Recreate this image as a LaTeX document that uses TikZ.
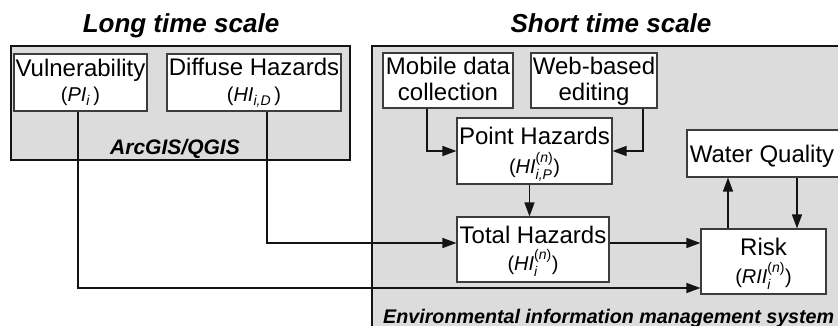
\documentclass[tikz,border=0pt]{standalone}
\usepackage{amsmath}
\usepackage{fontspec}
\setmainfont{Liberation Sans}
\usetikzlibrary{arrows.meta}
\definecolor{panelgray}{HTML}{DCDCDC}
\definecolor{boxline}{HTML}{3C3C3C}
\definecolor{ink}{HTML}{141414}
\newcommand\mainsize{\fontsize{24}{26}\selectfont}
\newcommand\subsize{\fontsize{20}{22}\selectfont}
\newcommand\up[1]{\textup{#1}}
\begin{document}
\begin{tikzpicture}[x=1pt,y=-1pt,
  panel/.style={fill=panelgray,draw=ink,line width=2.2pt,inner sep=0pt},
  box/.style={draw=boxline,fill=white,line width=1.1pt,inner sep=0pt},
  txt/.style={inner sep=0pt,anchor=base,font=\mainsize},
  subtxt/.style={inner sep=0pt,anchor=base,font=\subsize},
  title/.style={inner sep=0pt,anchor=base,font=\fontsize{26}{28}\selectfont\bfseries\itshape},
  tag/.style={inner sep=0pt,anchor=base,font=\fontsize{21}{23}\selectfont\bfseries\itshape},
  flow/.style={draw=ink,line width=1.3pt,-{Triangle[length=14pt,width=10pt]}}
]
\useasboundingbox (0,0) rectangle (838,326);
\clip (0,0) rectangle (838,326);
\fill[white] (0,0) rectangle (838,326);

% the two time-scale panels
\node[panel,minimum width=339pt,minimum height=114pt] (longpanel) at (180.5,103) {};
\node[panel,minimum width=490pt,minimum height=300pt] (shortpanel) at (617,196) {};

% titles and panel tags
\node[title] (longtitle) at (181,33) {Long time scale};
\node[title] (shorttitle) at (611,33) {Short time scale};
\node[tag] (gistag) at (175,155) {ArcGIS/QGIS};
\node[tag,anchor=base west,font=\fontsize{19.7}{22}\selectfont\bfseries\itshape] (eimstag) at (383,323) {Environmental information management system};

% boxes
\node[box,minimum width=133pt,minimum height=57pt] (vul) at (80.5,82.5) {};
\node[box,minimum width=174pt,minimum height=57pt] (dif) at (254,82.5) {};
\node[box,minimum width=130pt,minimum height=55pt] (mob) at (448,80.5) {};
\node[box,minimum width=126pt,minimum height=55pt] (web) at (594,80.5) {};
\node[box,minimum width=155pt,minimum height=66pt] (pt) at (534.5,151) {};
\node[box,minimum width=152pt,minimum height=65pt] (tot) at (533,249.5) {};
\node[box,minimum width=163pt,minimum height=47pt] (wq) at (768.5,153.5) {};
\node[box,minimum width=125pt,minimum height=65pt] (risk) at (763.5,261.5) {};

% box texts
\node[txt] (vulA) at (80.5,77) {Vulnerability};
\node[subtxt] (vulB) at (80.5,102) {(\textit{PI}$_{\textit{i}}$\,)};
\node[txt] (difA) at (254,76) {Diffuse Hazards};
\node[subtxt] (difB) at (254,102) {(\textit{HI}$_{\textit{i,D}}$\,)};
\node[txt] (mobA) at (448,75) {Mobile data};
\node[txt] (mobB) at (448,101) {collection};
\node[txt] (webA) at (594,75) {Web-based};
\node[txt] (webB) at (594,101) {editing};
\node[txt] (ptA) at (534.5,145) {Point Hazards};
\node[subtxt] (ptB) at (534.5,173) {(\textit{HI}$^{\up{(}\textit{n}\up{)}}_{\textit{i,P}}$)};
\node[txt] (totA) at (533,243) {Total Hazards};
\node[subtxt] (totB) at (533,270) {(\textit{HI}$^{\up{(}\textit{n}\up{)}}_{\textit{i}}$)};
\node[txt] (wqA) at (762,162) {Water Quality};
\node[txt] (riskA) at (763.5,255) {Risk};
\node[subtxt] (riskB) at (763.5,283) {(\textit{RII}$^{\up{(}\textit{n}\up{)}}_{\textit{i}}$)};

% connectors
\draw[flow] ([xshift=-21pt]mob.south) |- (pt.west);
\draw[flow] ([xshift=49pt]web.south) |- (pt.east);
\draw[flow] ([xshift=-5pt]pt.south) -- ([xshift=-5pt]pt.south |- tot.north);
\draw[flow] ([xshift=13pt]dif.south) |- ([yshift=6.5pt]tot.west);
\draw[flow] ([yshift=6.5pt]tot.east) -- ([yshift=6.5pt]tot.east -| risk.west);
\draw[flow] ([xshift=-2.5pt]vul.south) |- ([yshift=-26.5pt]risk.west);
\draw[flow] ([xshift=-35.5pt]risk.north) -- ([xshift=-35.5pt]risk.north |- wq.south);
\draw[flow] ([xshift=33.5pt]risk.north |- wq.south) -- ([xshift=33.5pt]risk.north);
\end{tikzpicture}
\end{document}
